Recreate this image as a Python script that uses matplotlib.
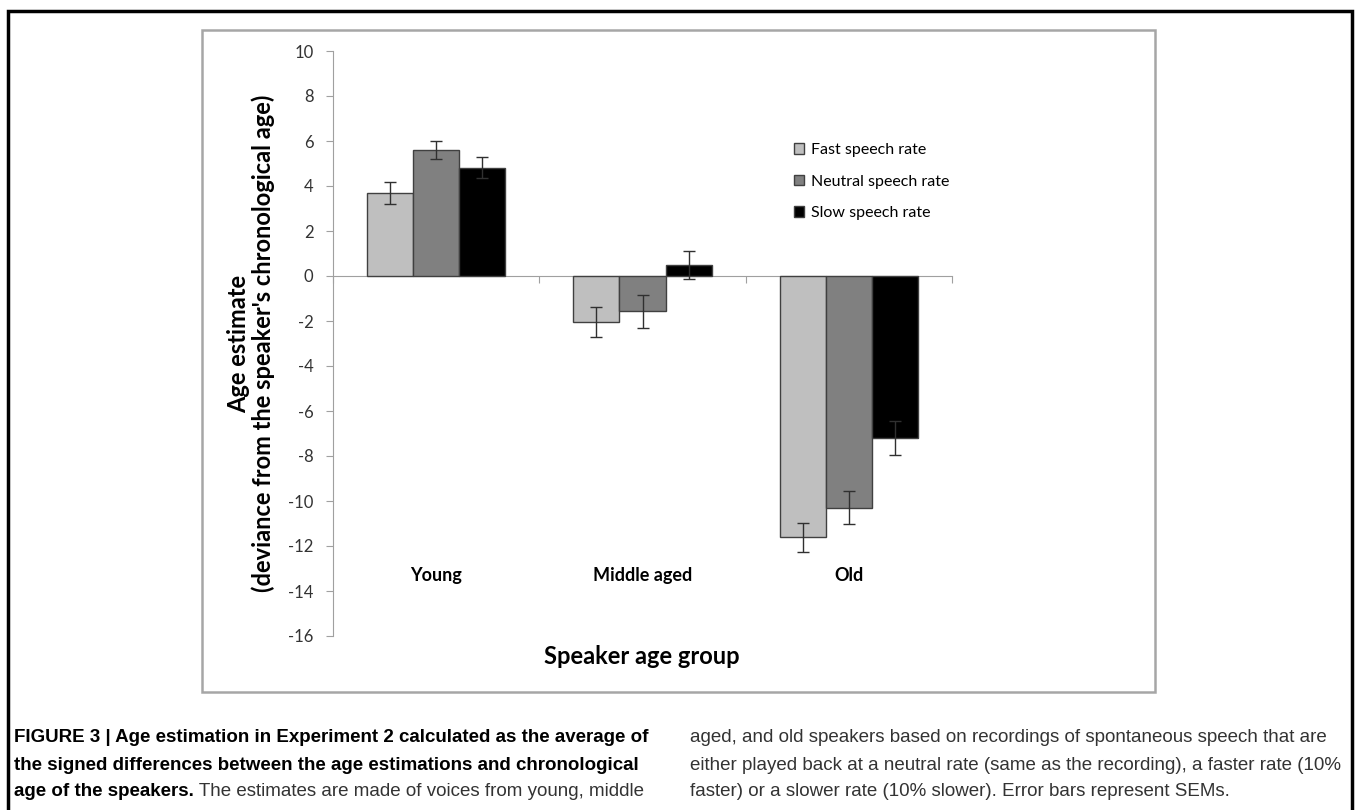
import matplotlib.pyplot as plt
import numpy as np
from matplotlib.patches import Rectangle

groups = ["Young", "Middle aged", "Old"]
series = ["Fast speech rate", "Neutral speech rate", "Slow speech rate"]
fast = [3.69, -2.03, -11.62]
fast_se = [0.49, 0.67, 0.66]
neutral = [5.59, -1.57, -10.30]
neutral_se = [0.39, 0.74, 0.74]
slow = [4.81, 0.49, -7.21]
slow_se = [0.46, 0.62, 0.76]
yticks = np.arange(-16, 11, 2)

W, H = 1357, 810
fig = plt.figure(figsize=(W / 100, H / 100), dpi=100)
chart_font = "Lato"

def fx(px):
    return px / W

def fy(py):
    return 1 - py / H

# outer frame + inner chart box
fig.patches.append(Rectangle((fx(8), -0.05), fx(1344), fy(11) + 0.05, transform=fig.transFigure,
                             fill=False, edgecolor="black", linewidth=2.5))
fig.patches.append(Rectangle((fx(202), fy(692)), fx(953), 662 / H, transform=fig.transFigure,
                             fill=False, edgecolor="#a6a6a6", linewidth=1.8))

ax = fig.add_axes([fx(333), fy(636), fx(952 - 333), (636 - 51) / H])

x = np.arange(len(groups))
w = 0.223
colors = ["#bfbfbf", "#808080", "#000000"]
bars = []
for k, (vals, se) in enumerate([(fast, fast_se), (neutral, neutral_se), (slow, slow_se)]):
    b = ax.bar(x + (k - 1) * w, vals, w, color=colors[k], edgecolor="#404040", linewidth=1.0,
               label=series[k], zorder=2)
    ax.errorbar(x + (k - 1) * w, vals, yerr=se, fmt="none", ecolor="#303030", elinewidth=1.0,
                capsize=4, capthick=1.0, zorder=3)
    bars.append(b)

ax.set_xlim(-0.5, 2.5)
ax.set_ylim(-16, 10)
ax.set_yticks(yticks)
ax.set_yticklabels([str(v) for v in yticks], fontfamily=chart_font, fontsize=12, color="#333333")
ax.tick_params(axis="y", direction="out", length=5, color="#a0a0a0", pad=9)

ax.spines["top"].set_visible(False)
ax.spines["right"].set_visible(False)
ax.spines["left"].set_color("#a0a0a0")
ax.spines["bottom"].set_position(("data", 0))
ax.spines["bottom"].set_color("#a0a0a0")
ax.spines["bottom"].set_zorder(1)
ax.set_xticks([-0.5, 0.5, 1.5, 2.5])
ax.set_xticklabels([])
ax.tick_params(axis="x", direction="out", length=5, color="#a0a0a0")

for i, g in enumerate(groups):
    ax.text(i, -13.3, g, ha="center", va="center", fontfamily=chart_font, fontsize=13,
            fontweight="bold", color="black")

fig.text(fx(251), fy(343.5), "Age estimate\n(deviance from the speaker's chronological age)",
         rotation=90, ha="center", va="center", multialignment="center", fontfamily=chart_font,
         fontsize=17, fontweight="bold", linespacing=1.1)
fig.text(fx(642), fy(656), "Speaker age group", ha="center", va="center", fontfamily=chart_font,
         fontsize=17, fontweight="bold")

ax.legend(handles=bars, loc="upper left", bbox_to_anchor=(fx(786), fy(135)),
          bbox_transform=fig.transFigure, frameon=False, prop={"family": chart_font, "size": 11.5},
          handlelength=0.65, handleheight=0.65, handletextpad=0.4, labelspacing=1.1, borderpad=0)

# caption
cap = "Liberation Sans"
cs = 13.5
ys = [738, 765, 792]
fig.text(fx(14), fy(ys[0]), "FIGURE 3 | Age estimation in Experiment 2 calculated as the average of",
         fontfamily=cap, fontsize=cs, fontweight="bold", va="center")
fig.text(fx(14), fy(ys[1]), "the signed differences between the age estimations and chronological",
         fontfamily=cap, fontsize=cs, fontweight="bold", va="center")
t = fig.text(fx(14), fy(ys[2]), "age of the speakers.", fontfamily=cap, fontsize=cs,
             fontweight="bold", va="center")
fig.canvas.draw()
bb = t.get_window_extent()
fig.text(bb.x1 / W, fy(ys[2]), " The estimates are made of voices from young, middle",
         fontfamily=cap, fontsize=cs, color="#333333", va="center")
for yy, line in zip(ys, [
        "aged, and old speakers based on recordings of spontaneous speech that are",
        "either played back at a neutral rate (same as the recording), a faster rate (10%",
        "faster) or a slower rate (10% slower). Error bars represent SEMs."]):
    fig.text(fx(690), fy(yy), line, fontfamily=cap, fontsize=cs, color="#333333", va="center")

plt.savefig("out.png", dpi=100)
